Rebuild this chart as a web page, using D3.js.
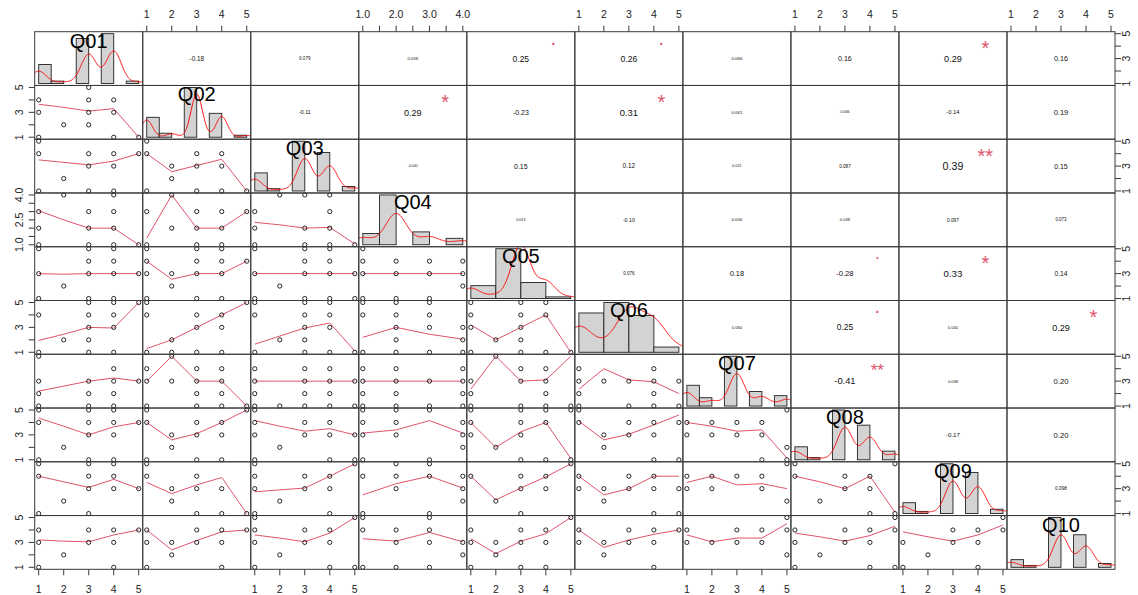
<!DOCTYPE html>
<html>
<head>
<meta charset="utf-8">
<script src="https://cdnjs.cloudflare.com/ajax/libs/d3/7.8.5/d3.min.js"></script>
<style>
  body { margin: 0; background: #fff; }
  svg { display: block; }
  text { font-family: "Liberation Sans", Arial, sans-serif; }
</style>
</head>
<body>
<svg id="chart" width="1138" height="595"></svg>
<script>
// ---- survey items ----
const variables = ["Q01", "Q02", "Q03", "Q04", "Q05", "Q06", "Q07", "Q08", "Q09", "Q10"];

// answer levels of each item
const levelsLikert = [1, 2, 3, 4, 5];
const levelsQ04 = [1, 2, 3, 4];

// number of answers at each level (one row per item)
const valueCounts = [
  [8, 1, 19, 21, 1],   // Q01
  [10, 2, 25, 12, 1],  // Q02
  [8, 1, 22, 17, 2],   // Q03
  [7, 31, 8, 4],       // Q04
  [6, 2, 31, 10, 1],   // Q05
  [12, 3, 19, 14, 2],  // Q06
  [10, 4, 24, 7, 5],   // Q07
  [6, 1, 23, 16, 4],   // Q08
  [5, 1, 23, 19, 2],   // Q09
  [4, 1, 26, 17, 2]    // Q10
];

// histogram bin width per item
const histBinWidth = [0.5, 0.5, 0.5, 0.5, 1, 1, 0.5, 0.5, 0.5, 0.5];

// axis ticks and labelled ticks
const ticksLikert = [1, 2, 3, 4, 5];
const ticksQ04 = [1, 1.5, 2, 2.5, 3, 3.5, 4];
const labelsHorizLikert = ["1", "2", "3", "4", "5"];
const labelsVertLikert = ["1", "", "3", "", "5"];
const labelsHorizQ04 = ["1.0", "", "2.0", "", "3.0", "", "4.0"];
const labelsVertQ04 = ["1.0", "", "", "2.5", "", "", "4.0"];

// correlations (upper triangle, row by row: Q01 vs Q02..Q10, Q02 vs Q03..Q10, ...)
const corrLabels = [
  ["-0.18", "0.079", "0.058", "0.25", "0.26", "0.066", "0.16", "0.29", "0.16"],
  ["-0.11", "0.29", "-0.23", "0.31", "0.061", "0.0066", "-0.14", "0.19"],
  ["-0.041", "0.15", "0.12", "0.021", "0.087", "0.39", "0.15"],
  ["0.013", "-0.10", "0.056", "0.038", "0.097", "0.073"],
  ["0.076", "0.18", "-0.28", "0.33", "0.14"],
  ["0.050", "0.25", "0.040", "0.29"],
  ["-0.41", "0.038", "0.20"],
  ["-0.17", "0.20"],
  ["0.098"]
];
// significance codes of the same pairs
const corrStars = [
  ["", "", "", ".", ".", "", "", "*", ""],
  ["", "*", "", "*", "", "", "", ""],
  ["", "", "", "", "", "**", ""],
  ["", "", "", "", "", ""],
  ["", "", ".", "*", ""],
  ["", ".", "", "*"],
  ["**", "", ""],
  ["", ""],
  [""]
];

// answer combinations present (lower triangle, row by row: Q02 vs Q01, Q03 vs Q01..Q02, ...)
// each token: answer on the column item, then answer on the row item
const scatterPoints = [
  "14 13 11 22 35 34 33 32 44 43 41 51",
  "15 14 34 44 54 33 43 22 11 31 41",
  "15 14 34 44 23 33 43 22 11 31 41 51",
  "24 44 13 33 43 12 32 42 11 31 41 51",
  "24 13 33 43 53 22 32 42 11 31 41",
  "24 34 44 13 43 12 32 42 11 31 41 51",
  "15 35 45 34 44 13 33 43 53 22 11 31 41",
  "15 35 45 14 34 44 54 13 23 33 43 22 11 31 41",
  "15 35 45 34 44 13 33 43 53 22 11 31 41 51",
  "15 14 24 34 44 13 23 33 43 42 11 21 31",
  "35 45 55 14 34 44 33 43 22 32 11 31 41",
  "15 55 14 34 44 33 43 22 11 21 31 41",
  "15 35 45 14 34 44 33 43 22 32 11 31 41 51",
  "15 25 35 14 24 34 23 33 43 22 42 11 21 31 41",
  "15 35 45 14 34 44 13 33 22 32 11 31 41 51",
  "15 44 13 33 43 53 12 32 42 11 31 41",
  "25 14 34 44 13 23 33 43 32 42 11 31 41 51",
  "14 34 44 13 33 43 53 12 32 42 11 21 31 41 51",
  "14 24 44 13 23 33 43 12 22 42 11 21 31 41",
  "25 34 44 13 33 43 12 42 11 31 41 51",
  "14 44 13 23 33 43 53 12 42 11 31 41 51",
  "15 35 45 14 34 44 54 33 43 22 11 31 41",
  "15 55 14 34 44 23 33 43 22 11 31 41",
  "15 14 34 44 13 33 43 53 22 11 41 51",
  "15 25 35 14 24 44 13 23 43 42 11 31",
  "15 35 45 55 14 34 44 13 33 22 31 41 51",
  "15 14 34 44 54 23 33 43 22 41 51",
  "14 24 34 44 13 23 33 43 55 52 41 51",
  "15 35 45 14 34 44 33 43 53 22 11 31",
  "15 14 34 23 33 43 22 31 41 51",
  "15 55 14 34 44 13 33 43 22 11 41",
  "25 35 14 24 34 44 23 43 42 11 31",
  "55 14 34 44 33 43 22 31",
  "14 34 44 13 23 33 43 53 22 41 51",
  "14 24 34 13 23 44 43 52 55",
  "15 55 14 34 44 33 43 22 41 51",
  "14 34 44 54 13 33 43 22 11 41",
  "14 34 44 54 13 23 33 43 22 11 41",
  "15 55 14 34 44 13 33 43 22 11 41 51",
  "15 35 14 24 34 23 33 43 42 11 21 31",
  "55 14 34 44 13 23 33 43 22 11 31 41",
  "14 34 44 54 13 23 33 43 22 41",
  "14 34 13 23 33 44 43 54 52 55",
  "55 14 34 44 54 13 33 43 22 11 41 51",
  "55 34 44 54 13 33 43 22 11 41"
];

// local regression fit of the row item at each answer level of the column item (same order)
const smoothFits = [
  [3.65, 3.4, 3.1, 3.3, 1.0],
  [3.5, 3.3, 3.1, 3.4, 4.0],
  [4.0, 2.55, 3.05, 3.55, 1.0],
  [3.05, 2.5, 2.0, 2.0, 1.0],
  [1.4, 4.0, 2.0, 2.0, 3.0],
  [2.35, 2.2, 2.0, 2.05, 1.05],
  [3.0, 2.95, 3.0, 3.0, 3.0],
  [4.0, 2.55, 3.0, 3.0, 4.0],
  [3.0, 3.0, 3.0, 3.0, 3.0],
  [3.0, 3.0, 3.0, 3.0],
  [1.95, 2.45, 3.0, 2.95, 5.0],
  [1.3, 2.0, 3.0, 4.0, 5.0],
  [1.65, 2.3, 2.95, 3.35, 1.1],
  [2.2, 3.0, 2.45, 2.05],
  [3.2, 2.0, 3.0, 4.0, 1.0],
  [2.2, 2.6, 3.0, 3.25, 3.0],
  [3.0, 5.0, 3.0, 3.0, 1.0],
  [3.0, 3.0, 3.0, 3.0, 3.0],
  [3.0, 3.0, 3.0, 3.0],
  [2.35, 5.0, 3.0, 3.1, 5.0],
  [2.35, 4.0, 3.1, 2.95, 2.0],
  [4.35, 3.7, 3.0, 3.65, 4.0],
  [4.0, 2.6, 3.1, 4.0, 5.0],
  [4.15, 3.7, 3.3, 3.5, 3.0],
  [3.15, 3.4, 4.15, 3.15],
  [4.0, 2.0, 3.25, 4.0, 1.1],
  [4.1, 2.6, 3.05, 3.8, 4.6],
  [4.0, 3.7, 3.3, 3.4, 1.15],
  [4.0, 3.55, 3.1, 3.75, 3.0],
  [3.5, 2.6, 3.3, 3.9, 1.0],
  [2.75, 2.9, 3.05, 4.0, 5.0],
  [2.5, 3.4, 4.0, 3.05],
  [4.0, 2.1, 3.05, 3.95, 5.0],
  [4.0, 2.5, 3.0, 4.0, 4.0],
  [3.5, 4.0, 3.3, 3.4, 3.0],
  [4.0, 3.55, 3.0, 4.0, 1.1],
  [3.2, 3.1, 3.05, 3.6, 4.0],
  [4.0, 2.4, 3.15, 3.85, 4.0],
  [3.6, 3.35, 3.05, 3.75, 5.0],
  [3.3, 3.1, 3.8, 3.05],
  [3.3, 2.1, 3.1, 3.7, 5.0],
  [4.0, 2.6, 3.2, 3.65, 4.0],
  [3.6, 3.05, 3.35, 3.35, 4.5],
  [3.75, 3.45, 3.1, 3.55, 4.3],
  [3.85, 3.45, 3.1, 3.6, 4.4]
];

// ---- layout ----
const nVar = variables.length;
const gridLeft = 34.7, gridTop = 31.7, cellW = 108.03, cellH = 53.76;
const gridRight = gridLeft + nVar * cellW, gridBottom = gridTop + nVar * cellH;
const tickLen = 6;
const smoothColor = "#DF536B", densityColor = "#FF0000", frameColor = "#3a3a3a";

const svg = d3.select("#chart");
const defs = svg.append("defs");

const levelsOf = i => (variables[i] === "Q04" ? levelsQ04 : levelsLikert);
const ticksOf = i => (variables[i] === "Q04" ? ticksQ04 : ticksLikert);
const domainOf = i => d3.extent(levelsOf(i));

// R-style axis range: data range padded by 4% on each side
function padded(dom) {
  const r = dom[1] - dom[0];
  return [dom[0] - 0.04 * r, dom[1] + 0.04 * r];
}
const cellX = j => gridLeft + j * cellW;
const cellY = i => gridTop + i * cellH;
const xScale = j => d3.scaleLinear().domain(padded(domainOf(j))).range([cellX(j), cellX(j) + cellW]);
const yScale = i => d3.scaleLinear().domain(padded(domainOf(i))).range([cellY(i) + cellH, cellY(i)]);

// clip rectangles for every cell
for (let i = 0; i < nVar; i++) {
  for (let j = 0; j < nVar; j++) {
    defs.append("clipPath").attr("id", `clip-${i}-${j}`)
      .append("rect").attr("x", cellX(j)).attr("y", cellY(i)).attr("width", cellW).attr("height", cellH);
  }
}

// ---- helpers for the diagonal ----
function expand(i) {
  const out = [];
  levelsOf(i).forEach((v, k) => { for (let c = 0; c < valueCounts[i][k]; c++) out.push(v); });
  return out;
}
function bwNrd0(x) {
  const hi = d3.deviation(x);
  const q = d3.quantileSorted(x, 0.75) - d3.quantileSorted(x, 0.25);
  let lo = Math.min(hi, q / 1.34);
  if (!lo) lo = hi || Math.abs(x[0]) || 1;
  return 0.9 * lo * Math.pow(x.length, -0.2);
}
function kde(x) {
  const bw = bwNrd0(x);
  const from = d3.min(x) - 3 * bw, to = d3.max(x) + 3 * bw, m = 512;
  const k = 1 / (bw * Math.sqrt(2 * Math.PI) * x.length);
  return d3.range(m).map(s => {
    const t = from + (to - from) * s / (m - 1);
    let d = 0;
    for (const v of x) { const z = (t - v) / bw; d += Math.exp(-0.5 * z * z); }
    return [t, d * k];
  });
}

// ---- diagonal: histogram, density, item name ----
for (let i = 0; i < nVar; i++) {
  const g = svg.append("g").attr("clip-path", `url(#clip-${i}-${i})`);
  const data = expand(i);
  const dom = domainOf(i), w = histBinWidth[i];
  const breaks = d3.range(dom[0], dom[1] + w / 2, w);
  const bins = breaks.slice(0, -1).map((b0, k) => {
    const b1 = breaks[k + 1];
    const cnt = data.filter(v => (k === 0 ? v >= b0 : v > b0) && v <= b1).length;
    return { x0: b0, x1: b1, dens: cnt / (data.length * w) };
  });
  const x = xScale(i);
  const ymax = d3.max(bins, b => b.dens);
  const y = d3.scaleLinear().domain([-0.04 * ymax, 1.04 * ymax]).range([cellY(i) + cellH, cellY(i)]);
  g.selectAll("rect.bar").data(bins).join("rect")
    .attr("x", b => x(b.x0)).attr("width", b => x(b.x1) - x(b.x0))
    .attr("y", b => y(b.dens)).attr("height", b => y(0) - y(b.dens))
    .attr("fill", "#D3D3D3").attr("stroke", "#222").attr("stroke-width", 0.9);
  g.append("path").datum(kde(data))
    .attr("d", d3.line().x(d => x(d[0])).y(d => y(d[1])))
    .attr("fill", "none").attr("stroke", densityColor).attr("stroke-width", 1);
  svg.append("text").attr("x", cellX(i) + cellW / 2).attr("y", cellY(i) + 16)
    .attr("text-anchor", "middle").attr("font-size", 20).attr("fill", "#000")
    .text(variables[i]);
}

// ---- lower triangle: scatter of answer combinations with smooth ----
let idx = 0;
for (let i = 1; i < nVar; i++) {
  for (let j = 0; j < i; j++, idx++) {
    const x = xScale(j), y = yScale(i);
    const pts = scatterPoints[idx].split(" ").map(t => [+t[0], +t[1]]);
    const g = svg.append("g");
    const fit = levelsOf(j).map((v, k) => [v, smoothFits[idx][k]]);
    g.append("path").datum(fit)
      .attr("clip-path", `url(#clip-${i}-${j})`)
      .attr("d", d3.line().x(d => x(d[0])).y(d => y(d[1])))
      .attr("fill", "none").attr("stroke", smoothColor).attr("stroke-width", 1);
    g.selectAll("circle").data(pts).join("circle")
      .attr("cx", d => x(d[0])).attr("cy", d => y(d[1])).attr("r", 2.1)
      .attr("fill", "none").attr("stroke", "#111").attr("stroke-width", 0.9);
  }
}

// ---- upper triangle: correlation coefficients ----
const corrWidthUnit = 39;   // text width for |r| = 1
const measure = svg.append("text").attr("font-size", 10).attr("visibility", "hidden");
for (let i = 0; i < nVar - 1; i++) {
  for (let j = i + 1; j < nVar; j++) {
    const label = corrLabels[i][j - i - 1];
    const r = parseFloat(label);
    const len = measure.text(label).node().getComputedTextLength();
    const targetW = corrWidthUnit * (Math.abs(r) + 0.3) / 1.3;
    const fs = 10 * targetW / len;
    const cx = cellX(j) + cellW / 2, cy = cellY(i) + cellH / 2;
    svg.append("text").attr("x", cx).attr("y", cy + 0.358 * fs)
      .attr("text-anchor", "middle").attr("font-size", fs).attr("fill", "#111").text(label);
    const star = corrStars[i][j - i - 1];
    if (star) {
      const sfs = fs * 1.3 / (Math.abs(r) + 0.3);
      const sx = cellX(j) + 0.8 * cellW, sy = cellY(i) + 0.22 * cellH;
      const lift = star === "." ? 0.05 : 0.575;
      svg.append("text").attr("x", sx).attr("y", sy + lift * sfs)
        .attr("text-anchor", "middle").attr("font-size", sfs).attr("fill", smoothColor).text(star);
    }
  }
}
measure.remove();

// ---- cell frames ----
for (let i = 0; i < nVar; i++) {
  for (let j = 0; j < nVar; j++) {
    svg.append("rect").attr("x", cellX(j)).attr("y", cellY(i)).attr("width", cellW).attr("height", cellH)
      .attr("fill", "none").attr("stroke", frameColor).attr("stroke-width", 1);
  }
}

// ---- outer axes (alternating sides) ----
const axisG = svg.append("g").attr("font-size", 10.5).attr("fill", "#222");
for (let k = 0; k < nVar; k++) {
  const isQ04 = variables[k] === "Q04";
  const ticks = ticksOf(k);
  const hLabels = isQ04 ? labelsHorizQ04 : labelsHorizLikert;
  const vLabels = isQ04 ? labelsVertQ04 : labelsVertLikert;
  const x = xScale(k), y = yScale(k);
  // columns: odd (1st, 3rd, ...) at bottom, even at top
  const top = k % 2 === 1;
  const ay = top ? gridTop : gridBottom;
  const dir = top ? -1 : 1;
  ticks.forEach((t, n) => {
    axisG.append("line").attr("x1", x(t)).attr("x2", x(t)).attr("y1", ay).attr("y2", ay + dir * tickLen)
      .attr("stroke", frameColor).attr("stroke-width", 1);
    if (hLabels[n]) {
      axisG.append("text").attr("x", x(t)).attr("y", top ? 17.5 : 592.5)
        .attr("text-anchor", "middle").text(hLabels[n]);
    }
  });
  // rows: odd (1st, 3rd, ...) on the right, even on the left
  const right = k % 2 === 0;
  const ax = right ? gridRight : gridLeft;
  const hdir = right ? 1 : -1;
  ticks.forEach((t, n) => {
    axisG.append("line").attr("x1", ax).attr("x2", ax + hdir * tickLen).attr("y1", y(t)).attr("y2", y(t))
      .attr("stroke", frameColor).attr("stroke-width", 1);
    if (vLabels[n]) {
      const lx = right ? 1129.5 : 22.7;
      axisG.append("text").attr("transform", `translate(${lx},${y(t)}) rotate(-90)`)
        .attr("text-anchor", "middle").text(vLabels[n]);
    }
  });
}
</script>
</body>
</html>
